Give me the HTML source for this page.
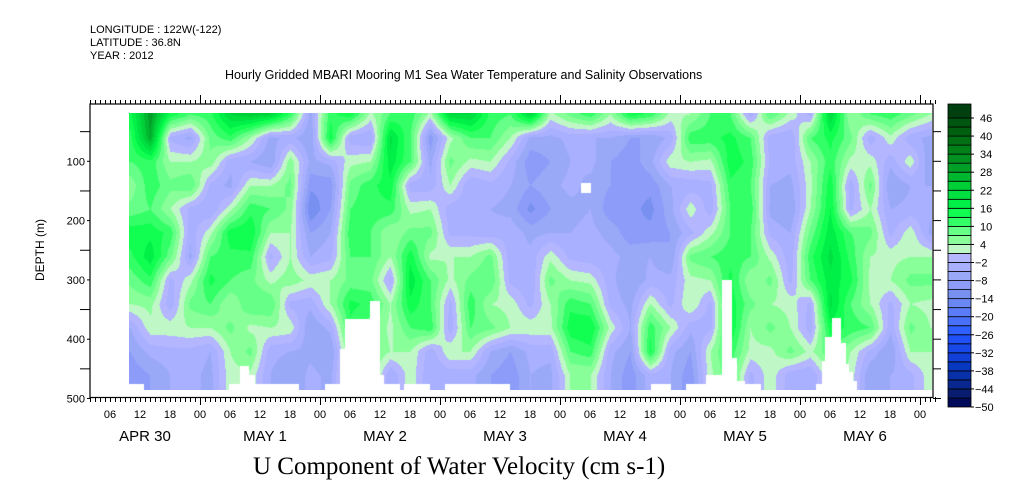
<!DOCTYPE html>
<html><head><meta charset="utf-8"><style>
body{margin:0;background:#fff;width:1009px;height:504px;overflow:hidden;position:relative;font-family:"Liberation Sans",sans-serif}
.t{position:absolute;white-space:nowrap;color:#000}
canvas{position:absolute}
svg{position:absolute;left:0;top:0}
</style></head><body>
<div class="t" style="left:90px;top:24px;font-size:11px">LONGITUDE : 122W(-122)</div>
<div class="t" style="left:90px;top:37px;font-size:11px">LATITUDE : 36.8N</div>
<div class="t" style="left:90px;top:50px;font-size:11px">YEAR : 2012</div>
<div class="t" style="left:225px;top:68px;font-size:12.5px">Hourly Gridded MBARI Mooring M1 Sea Water Temperature and Salinity Observations</div>
<div class="t" style="left:253px;top:453px;font-size:25px;font-family:'Liberation Serif',serif">U Component of Water Velocity (cm s-1)</div>
<div class="t" style="left:5px;top:243px;font-size:12px;transform:rotate(-90deg);transform-origin:center;width:70px;text-align:center">DEPTH (m)</div>
<canvas id="hm" width="803" height="277" style="left:129px;top:113px"></canvas>
<svg id="ax" width="1009" height="504"></svg>
<script>
const hours=[10,14,18,22,26,30,34,38,42,46,50,54,58,62,66,70,74,78,82,86,90,94,98,102,106,110,114,118,122,126,130,134,138,142,146,150,154,158,162,166,170];
const depths=[20,60,100,140,180,220,260,300,340,380,420,460];
const u=[
[15,12,10,5,8,15,12,8,4,-5,-8,-10],
[30,28,12,12,10,15,18,12,5,3,-4,-8],
[15,-3,4,8,4,12,8,-3,-4,3,-3,-5],
[10,-6,4,10,-3,-4,-6,3,8,4,-3,-4],
[12,8,6,-3,-5,3,10,14,10,4,-5,-6],
[22,12,-4,-6,3,15,12,10,4,8,4,3],
[24,4,-5,4,12,16,12,8,10,3,8,3],
[22,-6,-8,4,10,4,-3,3,10,4,-4,-5],
[12,-4,6,8,6,4,4,6,-3,3,-5,-8],
[-6,-8,-6,-10,-14,-8,-5,3,-4,-8,-6,-4],
[12,15,-4,-10,-8,-5,-3,4,4,-4,-8,-6],
[15,-4,3,8,10,12,10,8,14,12,8,8],
[3,-5,4,12,12,10,10,8,12,8,8,8],
[10,20,18,15,12,4,4,-3,4,3,4,-5],
[12,10,10,-4,3,8,15,18,15,10,4,3],
[3,-10,-6,-4,4,8,3,10,10,12,-4,-5],
[22,3,8,4,-4,-3,4,3,-3,-4,4,-4],
[22,10,3,-5,-4,-3,4,8,12,10,4,-4],
[12,10,4,-3,-5,-4,8,10,4,8,-5,-8],
[10,4,-3,-5,-6,-3,-4,-3,3,4,-8,-10],
[22,-6,-10,-8,-12,-6,-4,-5,-3,3,-4,-5],
[3,-6,-8,-6,-8,-5,3,8,4,3,-4,-6],
[8,-4,-5,-4,-6,-5,-3,4,12,15,10,4],
[12,-5,-4,-6,-5,-4,-4,3,10,16,12,4],
[4,-5,-8,-8,-10,-6,-4,-4,-3,3,-4,-5],
[15,-8,-10,-10,-10,-10,-6,-8,-6,-5,-8,-10],
[12,-8,-6,-10,-12,-10,-5,-4,4,12,14,-3],
[3,-4,3,-5,-6,-8,-8,-4,-3,4,-4,-5],
[4,12,4,-4,3,-3,8,3,4,-4,-8,-10],
[10,12,3,-3,-4,3,10,4,-3,-3,4,3],
[10,14,15,12,10,10,12,14,15,16,12,10],
[-4,10,12,10,12,10,10,4,8,4,3,-3],
[10,-4,-3,-5,-6,-3,3,8,4,8,3,3],
[3,-5,-4,-6,-8,-5,-4,-3,3,4,8,-4],
[-3,10,4,3,4,8,12,10,-3,-4,3,-5],
[22,14,12,15,16,18,20,18,20,15,10,4],
[4,8,3,-4,-3,10,12,14,10,12,4,3],
[10,-4,3,8,4,8,4,3,4,10,-3,-8],
[12,3,-4,-8,-5,-3,3,4,-3,-4,-8,-5],
[8,-4,3,-5,-4,3,4,8,4,8,4,-3],
[4,-6,-8,-5,-4,-6,4,8,3,4,4,3]
];
const levels=[-50,-47,-44,-41,-38,-35,-32,-29,-26,-23,-20,-17,-14,-11,-8,-5,-2,1,4,7,10,13,16,19,22,25,28,31,34,37,40,43,46];
const cbLabels=[46,40,34,28,22,16,10,4,-2,-8,-14,-20,-26,-32,-38,-44,-50];
const tickLabels=["06","12","18","00"];
const dateLabels=["APR 30","MAY  1","MAY  2","MAY  3","MAY  4","MAY  5","MAY  6"];
const depthTicks=[100,200,300,400,500];
const colors=["#000a58","#081c70","#082890","#0830a8","#0838c0","#1040d8","#1848e8","#2050f8","#3060ff","#4870f8","#5a7cf8","#6a88f4","#7890f0","#8c9cf8","#9aa8f8","#a8b0ff","#b4b6ff","#bff8c6","#88ff99","#66ff88","#33ff66","#10ff50","#00f048","#00e040","#00d038","#00b830","#00a028","#009020","#008018","#007015","#006010","#005510","#004010"];
// bottom-of-data mask (pixel x ranges, bottom y) - geometry
const mask=[[129,144,384],[144,229,390],[229,240,384],[240,249,366],[249,255,375],[255,299,384],[299,325,390],[325,340,384],[340,345,349],[345,370,319],[370,380,301],[380,384,375],[384,400,384],[400,404,390],[404,430,384],[430,445,390],[445,510,384],[510,651,390],[651,671,384],[671,686,390],[686,706,384],[706,722,375],[722,732,280],[732,737,358],[737,745,381],[745,761,384],[761,816,390],[816,822,384],[822,825,361],[825,832,337],[832,841,318],[841,846,343],[846,849,364],[849,853,372],[853,857,381],[857,933,390]];
const X=h=>90+(h-2)*5, Y=d=>102+d*0.593;
const Hx=x=>(x-90)/5+2, Dy=y=>(y-102)/0.593;
function hex(c){return [parseInt(c.slice(1,3),16),parseInt(c.slice(3,5),16),parseInt(c.slice(5,7),16)];}
const rgb=colors.map(hex);
function val(h,d){
  let fi=(h-hours[0])/(hours[1]-hours[0]);fi=Math.max(0,Math.min(hours.length-1,fi));
  let fj=(d-depths[0])/(depths[1]-depths[0]);fj=Math.max(0,Math.min(depths.length-1,fj));
  const i0=Math.floor(fi),j0=Math.floor(fj),i1=Math.min(i0+1,hours.length-1),j1=Math.min(j0+1,depths.length-1);
  const a=fi-i0,b=fj-j0;
  return u[i0][j0]*(1-a)*(1-b)+u[i1][j0]*a*(1-b)+u[i0][j1]*(1-a)*b+u[i1][j1]*a*b;
}
const cv=document.getElementById('hm'),ctx=cv.getContext('2d');
const img=ctx.createImageData(803,277);
for(let px=0;px<803;px++){
  const x=129+px;let bot=390;
  for(const m of mask){if(x>=m[0]&&x<m[1]){bot=m[2];break;}}
  for(let py=0;py<277;py++){
    const y=113+py,k=(py*803+px)*4;
    let c=[255,255,255];
    if(y<bot && !(x>=581&&x<591&&y>=183&&y<193)){
      let i=Math.floor((val(Hx(x),Dy(y))+50)/3);i=Math.max(0,Math.min(32,i));c=rgb[i];
    }
    img.data[k]=c[0];img.data[k+1]=c[1];img.data[k+2]=c[2];img.data[k+3]=255;
  }
}
ctx.putImageData(img,0,0);
const NS='http://www.w3.org/2000/svg',svg=document.getElementById('ax');
function el(t,a){const e=document.createElementNS(NS,t);for(const k in a)e.setAttribute(k,a[k]);svg.appendChild(e);return e;}
const fr=el('rect',{x:90,y:104,width:843,height:293.5,fill:'none',stroke:'#000','stroke-width':1.2});


for(let h=2;h<=171;h++){
  const x=X(h)+0.5,maj=(h%24===0);
  el('line',{x1:x,y1:104,x2:x,y2:maj?95:100,stroke:'#000','stroke-width':1});
  el('line',{x1:x,y1:397,x2:x,y2:maj?405:402,stroke:'#000','stroke-width':1});
  if(h%6===0){
    const t=el('text',{x:X(h),y:418,'font-size':11,'text-anchor':'middle','font-family':'Liberation Sans'});
    t.textContent=tickLabels[(h/6+3)%4];
    
    
  }
}
dateLabels.forEach((s,i)=>{
  const t=el('text',{x:X(i*24+13),y:441,'font-size':15,'text-anchor':'middle','font-family':'Liberation Sans','xml:space':'preserve'});
  t.textContent=s;
  
  
});
for(let d=50;d<=500;d+=50){
  const y=Y(d),lab=(d%100===0);
  el('line',{x1:lab?87:80,y1:y,x2:90,y2:y,stroke:'#000'});
  el('line',{x1:933,y1:y,x2:941,y2:y,stroke:'#000'});
}
depthTicks.forEach(d=>{
  const t=el('text',{x:85,y:Y(d)+4,'font-size':11,'text-anchor':'end','font-family':'Liberation Sans'});
  t.textContent=d;
  
  
});
// colorbar
const cbTop=118,cbBot=407,bh=(cbBot-cbTop)/32;
levels.forEach((lv,i)=>{
  const y0=i===32?104:cbBot-(i+1)*bh,hgt=i===32?cbTop-104:bh;
  const r=el('rect',{x:948,y:y0,width:23,height:hgt,fill:colors[i],stroke:'#000','stroke-width':0.8});
  
  
});
cbLabels.forEach(v=>{
  const y=cbBot-(v+50)/3*bh;
  el('line',{x1:971,y1:y,x2:974,y2:y,stroke:'#000'});
  const t=el('text',{x:v<0?975:980,y:y+4,'font-size':11,'font-family':'Liberation Sans'});
  t.textContent=v<0?'\u2212'+(-v):v;
  
  
});
</script>
</body></html>
